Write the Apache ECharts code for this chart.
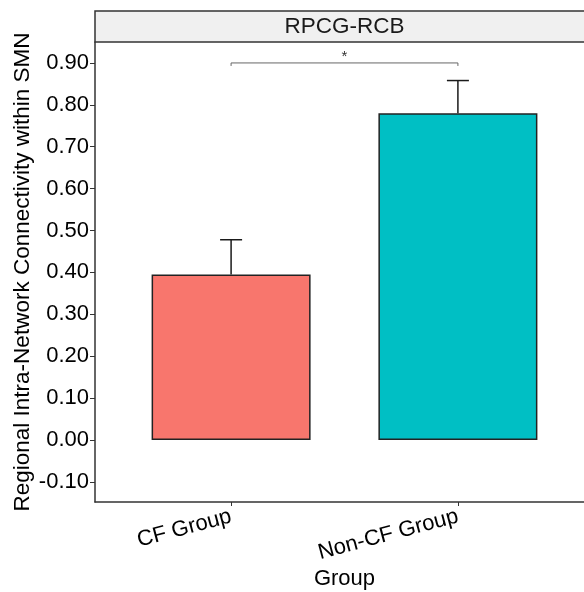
<!DOCTYPE html>
<html>
<head>
<meta charset="utf-8">
<script src="https://cdn.jsdelivr.net/npm/echarts@6/dist/echarts.min.js"></script>
<style>
  html, body { margin: 0; padding: 0; background: #fff; }
  #chart { width: 584px; height: 592px; }
</style>
</head>
<body>
<div id="chart"></div>
<script>
// data
const groups = ["CF Group", "Non-CF Group"];
const means = [0.395, 0.78];
const upper = [0.478, 0.858];
const colors = ["#F8766D", "#00BFC4"];
const yTicks = [-0.1, 0, 0.1, 0.2, 0.3, 0.4, 0.5, 0.6, 0.7, 0.8, 0.9];
const bracketY = 0.9;
const panelTitle = "RPCG-RCB";

const chart = echarts.init(document.getElementById("chart"));
const font = "Liberation Sans, Arial, sans-serif";

const option = {
  animation: false,
  textStyle: { fontFamily: font },
  grid: { left: 95, right: -10, top: 42, bottom: 90, outerBoundsMode: "none", containLabel: false },
  graphic: [
    {
      type: "rect",
      shape: { x: 95, y: 11, width: 510, height: 31 },
      style: { fill: "#f0f0f0", stroke: "#333", lineWidth: 1.5 },
      z: 10
    },
    {
      type: "text",
      x: 344.5,
      y: 27,
      style: {
        text: panelTitle, fontSize: 22.5, fontFamily: font, fill: "#1a1a1a",
        align: "center", verticalAlign: "middle"
      },
      z: 11
    }
  ],
  xAxis: {
    type: "value",
    min: 0.4,
    max: 2.6,
    name: "Group",
    nameLocation: "middle",
    nameGap: 66,
    nameMoveOverlap: false,
    nameTextStyle: { fontSize: 22, color: "#000", fontFamily: font },
    axisLine: { onZero: false, lineStyle: { color: "#333", width: 1.5 } },
    axisTick: { show: true, length: 4, customValues: [1, 2], lineStyle: { color: "#333" } },
    axisLabel: {
      customValues: [1, 2],
      rotate: 15,
      fontSize: 22,
      color: "#000",
      margin: 14,
      formatter: v => groups[Math.round(v) - 1]
    },
    splitLine: { show: false }
  },
  yAxis: {
    type: "value",
    min: -0.148,
    max: 0.95,
    name: "Regional Intra-Network Connectivity within SMN",
    nameLocation: "middle",
    nameGap: 61,
    nameMoveOverlap: false,
    nameTextStyle: { fontSize: 22.5, color: "#000", fontFamily: font },
    axisLine: { show: true, lineStyle: { color: "#333", width: 1.5 } },
    axisTick: { show: true, length: 5, customValues: yTicks, lineStyle: { color: "#333" } },
    axisLabel: {
      customValues: yTicks,
      fontSize: 22,
      color: "#000",
      margin: 6,
      formatter: v => v.toFixed(2)
    },
    splitLine: { show: false }
  },
  series: [
    {
      type: "bar",
      barWidth: 159,
      data: means.map((m, i) => ({
        value: [i + 1, m],
        itemStyle: { color: colors[i], borderColor: "#222", borderWidth: 1.5 }
      }))
    },
    {
      type: "custom",
      data: means.map((m, i) => [i + 1, m, upper[i]]),
      renderItem: (params, api) => {
        const base = api.coord([api.value(0), api.value(1)]);
        const top = api.coord([api.value(0), api.value(2)]);
        return {
          type: "group",
          children: [
            { type: "line", shape: { x1: base[0], y1: base[1], x2: top[0], y2: top[1] },
              style: { stroke: "#1a1a1a", lineWidth: 1.5 } },
            { type: "line", shape: { x1: top[0] - 11, y1: top[1], x2: top[0] + 11, y2: top[1] },
              style: { stroke: "#1a1a1a", lineWidth: 1.5 } }
          ]
        };
      },
      z: 5
    },
    {
      type: "custom",
      data: [[1, 2, bracketY]],
      renderItem: (params, api) => {
        const a = api.coord([api.value(0), api.value(2)]);
        const b = api.coord([api.value(1), api.value(2)]);
        return {
          type: "group",
          children: [
            { type: "polyline",
              shape: { points: [[a[0], a[1] + 3], [a[0], a[1]], [b[0], b[1]], [b[0], b[1] + 3]] },
              style: { stroke: "#666", lineWidth: 1, fill: null } },
            { type: "text", x: (a[0] + b[0]) / 2, y: a[1] + 1,
              style: { text: "*", fontSize: 15, fontFamily: font, fill: "#333",
                       align: "center", verticalAlign: "bottom" } }
          ]
        };
      },
      z: 5
    }
  ]
};

chart.setOption(option);
</script>
</body>
</html>
